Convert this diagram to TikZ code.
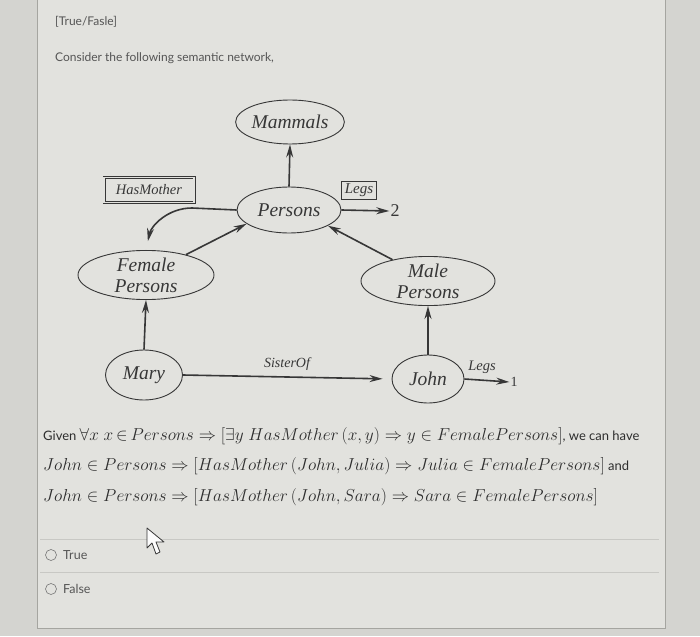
\documentclass[tikz,border=0pt]{standalone}
\usepackage{fontspec}
\setmainfont{Liberation Serif}
\newfontfamily\uifont{Lato}
\usetikzlibrary{arrows.meta,shapes.geometric}
\definecolor{bg}{RGB}{212,212,208}
\definecolor{panel}{RGB}{226,226,222}
\definecolor{ink}{RGB}{55,55,55}
\definecolor{mink}{RGB}{45,45,45}
\definecolor{uiink}{RGB}{85,85,85}
\definecolor{rule}{RGB}{200,200,196}
\definecolor{frame}{RGB}{165,165,160}
\tikzset{
  ent/.style={ellipse, draw=ink, line width=0.9pt, inner sep=0pt, align=center,
    font=\fontsize{19.5}{21}\selectfont\itshape, text=ink},
  rel/.style={draw=ink, line width=0.6pt, inner sep=2pt, text=ink},
  lab/.style={text=ink, inner sep=1pt},
  edge/.style={draw=ink, line width=1.6pt, -{Stealth[length=13pt,width=7pt]}},
  uitext/.style={text=uiink, inner sep=0pt, font=\uifont\fontsize{12}{14}\selectfont},
  mline/.style={text=mink, inner sep=0pt, anchor=west, font=\uifont\fontsize{13}{15}\selectfont},
  radio/.style={circle, draw=uiink!80, line width=0.6pt, minimum size=11pt, inner sep=0pt}
}
\newcommand{\mathbig}[1]{{\fontsize{17}{19}\selectfont$#1$}}
\begin{document}
\begin{tikzpicture}[x=1pt,y=-1pt]
\useasboundingbox (0,0) rectangle (700,636);
\fill[bg] (0,0) rectangle (700,636);
\filldraw[fill=panel, draw=frame, line width=0.8pt] (37,-2) rectangle (665,628);

\node[uitext, anchor=west] (title) at (55,22) {[True/Fasle]};
\node[uitext, anchor=west] (intro) at (55,58) {Consider the following semantic network,};

% semantic network
\node[ent, minimum width=106pt, minimum height=44pt] (mam) at (290,122) {Mammals};
\node[ent, minimum width=104pt, minimum height=46pt] (per) at (289,210) {Persons};
\node[ent, minimum width=136pt, minimum height=49pt] (fem) at (146,275) {Female\\Persons};
\node[ent, minimum width=134pt, minimum height=48pt] (male) at (428,281) {Male\\Persons};
\node[ent, minimum width=77pt, minimum height=50pt] (mary) at (144,375) {Mary};
\node[ent, minimum width=72pt, minimum height=48pt] (john) at (428,379) {John};

\node[rel, double=panel, double distance=1.8pt, minimum width=90pt, minimum height=25pt,
  font=\fontsize{14.5}{15}\selectfont\itshape] (hm) at (149,190) {HasMother};
\node[rel, minimum width=35pt, minimum height=18pt, inner sep=1pt,
  font=\fontsize{15}{15}\selectfont\itshape] (legsA) at (359,190) {Legs};
\node[lab, font=\fontsize{18}{18}\selectfont] (two) at (395,211) {2};
\node[lab, font=\fontsize{14.5}{15}\selectfont\itshape] (legsB) at (482,367) {Legs};
\node[lab, font=\fontsize{14}{15}\selectfont] (one) at (514,382) {1};
\node[lab, font=\fontsize{14}{15}\selectfont\itshape] (sis) at (287,364) {SisterOf};

\draw[edge] (per.north) -- (mam.south);
\draw[edge] (per.east) -- (two.west);
\draw[edge] (fem.27) -- (per.198);
\draw[edge] (male.149) -- (per.338);
\draw[edge] (mary.north) -- (fem.south);
\draw[edge] (john.north) -- (male.south);
\draw[edge, shorten >=9pt] (mary.east) -- (john.west);
\draw[edge] (john.east) -- (one.west);
\coordinate (hmbend) at (192,208);
\draw[edge, shorten >=9pt] (per.west) -- (hmbend) to[out=180,in=78] (fem.north);

% statement
\node[mline] (l1) at (43,436) {Given \mathbig{\forall x\; x\,{\in}\, Persons \Rightarrow [\exists y\; HasMother\,(x,y) \Rightarrow y \in FemalePersons]}, we can have};
\node[mline] (l2) at (43,466) {\mathbig{John \in Persons \Rightarrow [HasMother\,(John, Julia) \Rightarrow Julia \in FemalePersons]} and};
\node[mline] (l3) at (43,497) {\mathbig{John \in Persons \Rightarrow [HasMother\,(John, Sara) \Rightarrow Sara \in FemalePersons]}};

% answers
\draw[rule, line width=0.8pt] (40,539) -- (659,539);
\draw[rule, line width=0.8pt] (40,572) -- (659,572);
\node[radio] (rt) at (51,555) {};
\node[uitext, anchor=west, font=\uifont\fontsize{12.5}{14}\selectfont] (tt) at (63,555) {True};
\node[radio] (rf) at (51,589) {};
\node[uitext, anchor=west, font=\uifont\fontsize{12.5}{14}\selectfont] (tf) at (63,589) {False};

% mouse cursor
\filldraw[fill=white!90!panel, draw=ink, line width=0.8pt, line join=round]
  (147,528) -- (147,548) -- (152,543) -- (156,554) -- (160,552) -- (156,542) -- (164,542) -- cycle;
\end{tikzpicture}
\end{document}
